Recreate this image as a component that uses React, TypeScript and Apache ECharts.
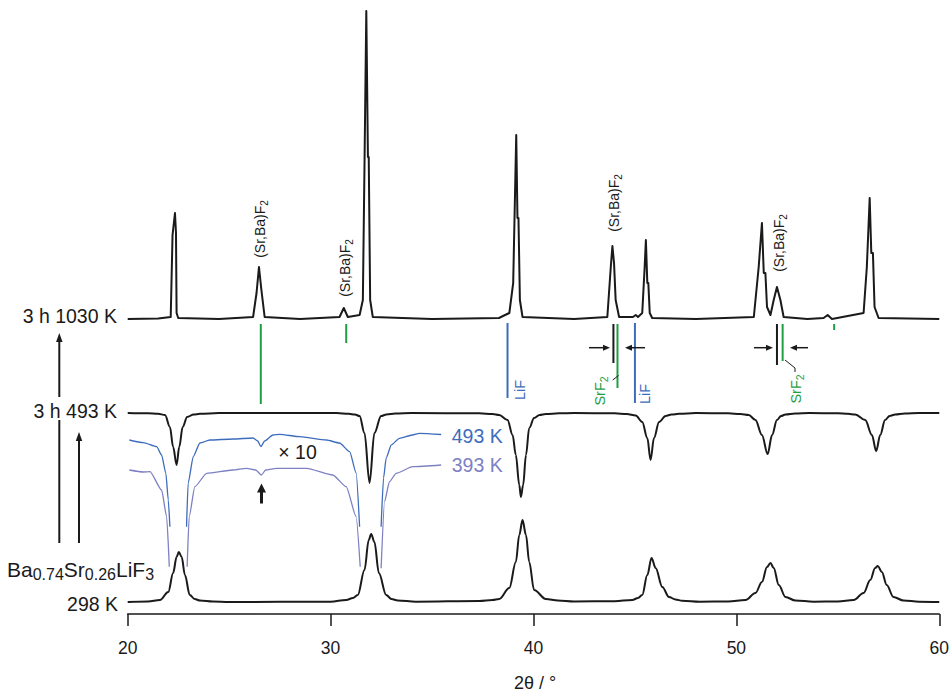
import React, { useEffect, useRef } from 'react';
import * as echarts from 'echarts';

// ---------------- data ----------------
const xMin = 20;
const xMax = 60;
const xStep = 10;

// 3 h 1030 K : [2θ, intensity above baseline]
const scan1030K: [number, number][] = [
  [20.0, 0], [21.5, 0.5], [22.12, 2], [22.21, 84], [22.33, 106], [22.38, 86], [22.41, 6], [22.49, 1],
  [24.5, 0], [26.18, 2], [26.35, 26], [26.47, 52], [26.59, 29], [26.75, 2],
  [28.5, 0], [30.44, 2], [30.65, 11], [30.85, 2],
  [31.43, 4], [31.59, 19], [31.67, 152], [31.76, 308], [31.84, 162], [31.88, 162], [31.95, 19], [32.08, 2],
  [35, 0], [38.3, 1], [38.6, 4], [38.81, 6], [39.0, 36], [39.15, 184], [39.21, 101], [39.26, 101], [39.33, 19], [39.46, 2],
  [42, 0], [43.64, 2], [43.81, 52], [43.89, 73], [43.97, 56], [44.05, 19], [44.22, 2],
  [44.9, 2], [45.04, 4], [45.15, 2], [45.36, 6], [45.48, 52], [45.54, 79], [45.61, 36], [45.66, 36], [45.73, 6], [45.85, 1],
  [48, 0], [50.86, 2], [51.1, 52], [51.26, 96], [51.35, 46], [51.43, 46], [51.51, 12], [51.68, 4],
  [51.84, 19], [52.0, 32], [52.17, 19], [52.33, 2],
  [53.5, 0], [54.3, 1], [54.5, 4], [54.71, 0],
  [56.27, 6], [56.43, 52], [56.57, 121], [56.65, 66], [56.73, 66], [56.81, 12], [57.01, 1], [60, 0],
];

// 3 h 493 K : [2θ, intensity] (drawn inverted)
const scan493K: [number, number][] = [
  [20, 0], [21.0, 0.3], [21.5, 0.8], [21.84, 2], [22.08, 14], [22.24, 34], [22.41, 52], [22.54, 34], [22.71, 14], [22.93, 4], [23.25, 1.5], [23.56, 0.8], [24.5, 0],
  [30.3, 0], [30.9, 0.8], [31.2, 1.5], [31.43, 3], [31.67, 20], [31.92, 70], [32.16, 20], [32.49, 3], [32.75, 1.5], [33.2, 0.6], [34, 0],
  [37.33, 0.3], [37.98, 1], [38.31, 2], [38.72, 7], [38.97, 22], [39.13, 42], [39.3, 72], [39.38, 84], [39.49, 72], [39.63, 42], [39.79, 15], [40.03, 5], [40.3, 2], [40.61, 1], [41.26, 0.3], [42, 0],
  [44.0, 0.3], [44.6, 1], [45.04, 2.5], [45.36, 9], [45.61, 25], [45.77, 47], [45.94, 25], [46.19, 9], [46.51, 3], [46.8, 1.5], [47.17, 0.8], [48, 0],
  [49.6, 0.3], [50.2, 1], [50.61, 2], [50.94, 7], [51.26, 22], [51.54, 41], [51.76, 22], [52.0, 7], [52.2, 3], [52.42, 1.5], [52.9, 0.5], [53.6, 0],
  [55.0, 0.3], [55.5, 0.8], [55.86, 1.5], [56.35, 7], [56.68, 22], [56.89, 38], [57.09, 22], [57.33, 7], [57.55, 3], [57.83, 1.5], [58.3, 0.5], [59, 0], [60, 0],
];

// Ba0.74Sr0.26LiF3 298 K : [2θ, intensity]
const scan298K: [number, number][] = [
  [20, 0], [21.0, 0.5], [21.59, 2], [22.0, 10], [22.24, 29], [22.41, 45], [22.52, 50], [22.66, 45], [22.82, 27], [23.06, 7], [23.3, 3], [23.56, 1.5], [24.2, 0.5], [25, 0],
  [30, 0.3], [30.77, 2], [31.1, 4], [31.34, 7], [31.67, 32], [31.88, 62], [32, 68], [32.16, 60], [32.38, 29], [32.74, 7], [33.0, 3], [33.31, 1.5], [34.2, 0.3],
  [37.33, 1], [37.98, 2], [38.31, 3], [38.81, 14], [39.13, 40], [39.3, 67], [39.46, 82], [39.63, 67], [39.79, 40], [40.03, 12], [40.61, 3], [41.2, 1.5], [42, 0.5],
  [44.0, 0.8], [44.87, 2], [45.15, 4], [45.36, 7], [45.61, 27], [45.82, 44], [46.02, 34], [46.35, 15], [46.68, 5], [47.0, 2.5], [47.33, 1.3], [48.2, 0.3],
  [49.6, 0.5], [50.45, 2], [50.94, 9], [51.26, 20], [51.51, 35], [51.68, 39], [51.84, 34], [52.09, 17], [52.42, 5], [52.91, 1.5], [53.8, 0.3],
  [55.0, 0.5], [55.78, 2], [56.27, 9], [56.6, 22], [56.84, 34], [56.97, 36], [57.17, 30], [57.41, 17], [57.74, 5], [58.24, 1.5], [59, 0.3], [60, 0],
];

// ×10 magnified traces (inverted), segments between the main reflections
const zoom493K: [number, number][][] = [
  [[20.08, 7], [20.77, 9.7], [21.43, 13.7], [21.67, 22], [21.88, 40.3], [22.0, 67], [22.08, 93.7]],
  [[22.9, 93.7], [22.98, 50], [23.23, 23.7], [23.56, 10], [24.05, 7], [25.19, 6], [26.18, 5], [26.41, 8], [26.56, 13.7],
   [26.75, 8], [27.16, 2], [27.49, 1.3], [28.48, 3.7], [29.79, 7], [30.44, 10], [30.94, 18.7], [31.26, 40], [31.43, 93.7]],
  [[32.49, 93.7], [32.61, 45], [32.74, 25], [32.99, 12], [33.39, 5.3], [34.03, 2], [34.38, 0.3], [35.45, 1.5]],
];
const zoom393K: [number, number][][] = [
  [[20.08, 6], [20.77, 8], [21.1, 7.7], [21.67, 26], [21.92, 52.7], [22.05, 102.7]],
  [[22.93, 102.7], [23.03, 52.7], [23.31, 22.7], [23.89, 9.3], [25.19, 6], [25.85, 4.3], [26.31, 6], [26.59, 11], [26.8, 6],
   [27.33, 4.3], [28.81, 4.3], [30.11, 11], [30.77, 22.7], [31.26, 52.7], [31.46, 102.7]],
  [[32.49, 104.3], [32.66, 37.7], [32.9, 17.7], [33.23, 9.3], [34.05, 2.7], [35.45, 1]],
];

// reference reflections: positions (2θ) and tick lengths
const srF2Pos = [26.56, 30.77, 44.14, 52.28, 54.82];
const srF2Len = [80, 19, 64, 37, 6];
const lifPos = [38.72, 45.0];
const lifLen = [74, 79];
const solidSolutionPos = [43.94, 52.0];
const solidSolutionLen = [39, 41];

// ---------------- layout ----------------
const W = 952;
const H = 693;
const AXIS_Y = 614;        // pixel row of the x axis
const OFF_1030 = 295;      // baselines in y units (pixels above axis)
const OFF_493 = 201;
const OFF_X10_493 = 181;
const OFF_X10_393 = 150;
const OFF_298 = 12;
const TICK_TOP = 290;

const FONT = '"Liberation Sans", Arial, Helvetica, sans-serif';
const BLACK = '#1a1a1a';
const BLUE = '#3d6cbc';
const PURPLE = '#7d80c3';
const GREEN = '#1f9e45';

function lineSeries(data: (number | null)[][], color: string, width: number, smooth: number | boolean = false) {
  return {
    type: 'line',
    data,
    symbol: 'none',
    showSymbol: false,
    smooth,
    smoothMonotone: 'x',
    silent: true,
    clip: false,
    lineStyle: { color, width, cap: 'butt', join: 'round' },
    emphasis: { disabled: true },
  };
}

function txt(x: number, y: number, text: string, fs: number, color: string, align = 'center', rotation = 0) {
  return {
    type: 'text', x, y, rotation, silent: true, z: 100,
    style: { text, fontSize: fs, fontFamily: FONT, fill: color, align, verticalAlign: 'middle' },
  };
}

function richTxt(x: number, y: number, parts: [string, boolean][], fs: number, sfs: number, drop: number,
  color: string, align = 'center', rotation = 0) {
  const text = parts.map(([t, sub]) => `{${sub ? 's' : 'n'}|${t}}`).join('');
  return {
    type: 'text', x, y, rotation, silent: true, z: 100,
    style: {
      text, fontFamily: FONT, fontSize: fs, fill: color, align, verticalAlign: 'middle',
      rich: {
        n: { fontSize: fs, fontFamily: FONT, fill: color },
        s: { fontSize: sfs, fontFamily: FONT, fill: color, padding: [drop * 2, 0, 0, 0] },
      },
    },
  };
}

function seg(x1: number, y1: number, x2: number, y2: number, color = BLACK, w = 2) {
  return { type: 'line', silent: true, z: 100, shape: { x1, y1, x2, y2 }, style: { stroke: color, lineWidth: w } };
}

function head(points: number[][], color = BLACK) {
  return { type: 'polygon', silent: true, z: 100, shape: { points }, style: { fill: color } };
}

function arrowUp(x: number, yTip: number, yEnd: number, hw: number, hh: number, w: number) {
  return [seg(x, yTip + hh - 1, x, yEnd, BLACK, w), head([[x, yTip], [x - hw / 2, yTip + hh], [x + hw / 2, yTip + hh]])];
}

function arrowH(xFrom: number, xTip: number, y: number) {
  const d = xTip > xFrom ? 1 : -1;
  return [seg(xFrom, y, xTip - d * 5, y, BLACK, 1.5), head([[xTip, y], [xTip - d * 7, y - 3], [xTip - d * 7, y + 3]])];
}

export default function App() {
  const ref = useRef<HTMLDivElement>(null);

  useEffect(() => {
    if (!ref.current) return;
    const chart = echarts.init(ref.current, null, { renderer: 'svg' });

    const series: any[] = [];
    series.push(lineSeries(scan1030K.map(([x, v]) => [x, OFF_1030 + v]), BLACK, 2));
    series.push(lineSeries(scan493K.map(([x, v]) => [x, OFF_493 - v]), BLACK, 2, 0.35));
    series.push(lineSeries(scan298K.map(([x, v]) => [x, OFF_298 + v]), BLACK, 2, 0.35));
    zoom493K.forEach((s) => series.push(lineSeries(s.map(([x, v]) => [x, OFF_X10_493 - v]), BLUE, 1.3, 0.2)));
    zoom393K.forEach((s) => series.push(lineSeries(s.map(([x, v]) => [x, OFF_X10_393 - v]), PURPLE, 1.3, 0.2)));
    srF2Pos.forEach((p, i) => series.push(lineSeries([[p, TICK_TOP], [p, TICK_TOP - srF2Len[i]]], GREEN, 2)));
    lifPos.forEach((p, i) => series.push(lineSeries([[p, TICK_TOP + 1], [p, TICK_TOP - lifLen[i]]], BLUE, 2)));
    solidSolutionPos.forEach((p, i) => series.push(lineSeries([[p, TICK_TOP], [p, TICK_TOP - solidSolutionLen[i]]], BLACK, 2)));

    const graphic: any[] = [
      // sample labels
      txt(117, 315.5, '3 h 1030 K', 19.5, BLACK, 'right'),
      txt(117, 410.5, '3 h 493 K', 19.5, BLACK, 'right'),
      txt(118, 604, '298 K', 19.5, BLACK, 'right'),
      richTxt(7, 569, [['Ba', false], ['0.74', true], ['Sr', false], ['0.26', true], ['LiF', false], ['3', true]], 21, 16, 5.5, BLACK, 'left'),
      // sequence arrows
      ...arrowUp(59.3, 333, 397, 6.5, 9, 2),
      seg(59.3, 420, 59.3, 543, BLACK, 2),
      ...arrowUp(79, 432, 543, 6.5, 9, 2),
      // peak labels
      richTxt(260, 229, [['(Sr,Ba)F', false], ['2', true]], 14, 10, 4, BLACK, 'center', Math.PI / 2),
      richTxt(345, 268, [['(Sr,Ba)F', false], ['2', true]], 14, 10, 4, BLACK, 'center', Math.PI / 2),
      richTxt(614, 203, [['(Sr,Ba)F', false], ['2', true]], 14, 10, 4, BLACK, 'center', Math.PI / 2),
      richTxt(779, 243, [['(Sr,Ba)F', false], ['2', true]], 14, 10, 4, BLACK, 'center', Math.PI / 2),
      txt(520, 390, 'LiF', 14.5, BLUE, 'center', Math.PI / 2),
      txt(645, 394, 'LiF', 14.5, BLUE, 'center', Math.PI / 2),
      richTxt(600, 391, [['SrF', false], ['2', true]], 14.5, 10.5, 4, GREEN, 'center', Math.PI / 2),
      richTxt(796, 389, [['SrF', false], ['2', true]], 14.5, 10.5, 4, GREEN, 'center', Math.PI / 2),
      // shift arrows and leaders
      ...arrowH(589, 610, 347.7),
      ...arrowH(645, 625, 347.7),
      ...arrowH(754, 773, 347.7),
      ...arrowH(808, 790, 347.7),
      seg(612.7, 380, 618.5, 375.5, BLACK, 1),
      { type: 'polyline', silent: true, z: 100, shape: { points: [[785, 360], [795, 368], [795, 372]] }, style: { stroke: BLACK, lineWidth: 1, fill: null } },
      // ×10 annotation
      txt(297.5, 452, '× 10', 19.5, BLACK, 'center'),
      ...arrowUp(261.5, 483.5, 503.5, 9, 9, 3),
      txt(451.7, 436, '493 K', 19.5, BLUE, 'left'),
      txt(451.7, 464.5, '393 K', 19.5, PURPLE, 'left'),
      // axis title
      txt(535, 682.5, '2θ / °', 18, BLACK, 'center'),
    ];

    chart.setOption({
      animation: false,
      backgroundColor: '#ffffff',
      grid: { left: 127.7, right: W - 941, top: 0, bottom: H - AXIS_Y, containLabel: false },
      xAxis: {
        type: 'value', min: xMin, max: xMax, interval: xStep,
        axisLine: { show: true, onZero: false, lineStyle: { color: BLACK, width: 1.5 } },
        axisTick: { show: true, inside: false, length: 12, lineStyle: { color: BLACK, width: 1.5 } },
        axisLabel: { fontSize: 17.5, fontFamily: FONT, color: BLACK, margin: 25 },
        splitLine: { show: false },
      },
      yAxis: { type: 'value', min: 0, max: AXIS_Y, show: false, splitLine: { show: false } },
      series,
      graphic,
    });

    return () => chart.dispose();
  }, []);

  return (
    <div
      ref={ref}
      style={{ position: 'absolute', left: 0, top: 0, width: W, height: H, background: '#fff' }}
    />
  );
}
